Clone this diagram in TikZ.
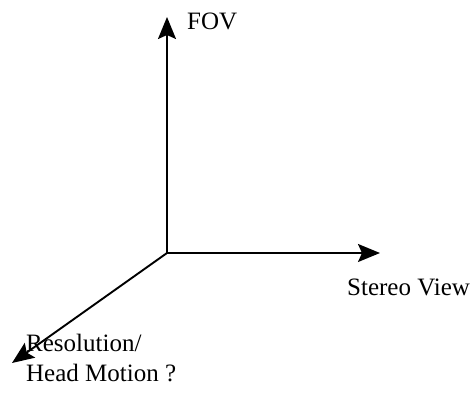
\documentclass[tikz,border=0pt]{standalone}
\usepackage{fontspec}
\setmainfont{Liberation Serif}
\usetikzlibrary{arrows.meta}
\begin{document}
\begin{tikzpicture}[x=1pt,y=-1pt,
  axis/.style={line width=1.9pt,-{Stealth[length=22pt,width=18pt,inset=4pt]}},
  axislabel/.style={inner sep=0pt,anchor=base west,align=left,
    font=\fontsize{25}{30}\selectfont}]
  \useasboundingbox (0,0) rectangle (471,417);
  % origin and axis tips
  \coordinate (o) at (167,253);
  \coordinate (fov) at (167,17);
  \coordinate (stereo) at (380,253);
  \coordinate (res) at (12,363);
  \draw[axis] (o) -- (fov);
  \draw[axis] (o) -- (stereo);
  \draw[axis] (o) -- (res);
  % axis labels
  \node[axislabel] (fovlabel) at (187,30) {FOV};
  \node[axislabel] (stereolabel) at (347,295) {Stereo View};
  \node[axislabel] (reslabel) at (26,381) {Resolution/\\Head Motion ?};
\end{tikzpicture}
\end{document}
